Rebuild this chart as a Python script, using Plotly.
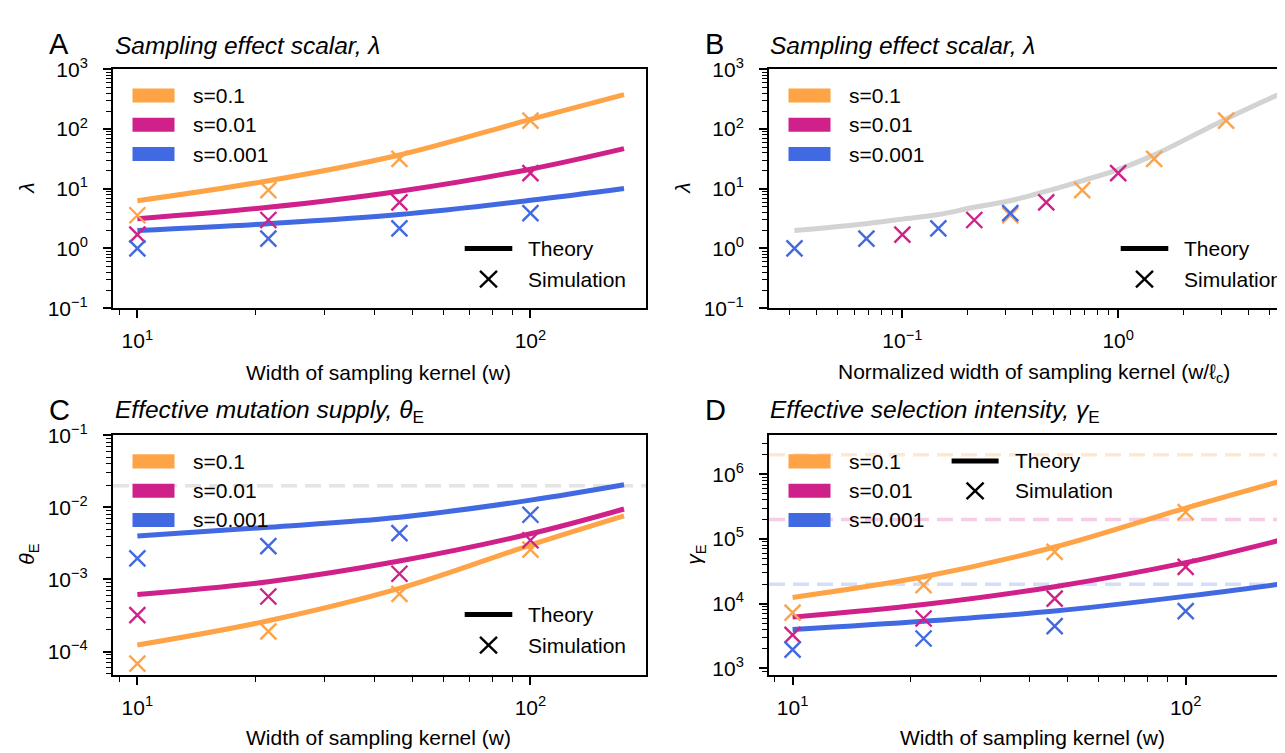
import plotly.graph_objects as go

W, H = 1285, 753
FONT = "Liberation Sans, Arial, Helvetica, sans-serif"

# ---------------- data ----------------
s_labels = ["s=0.1", "s=0.01", "s=0.001"]
colors = ["#FFA347", "#D0208A", "#4169E1"]
faded = ["rgba(255,163,71,0.25)", "rgba(208,32,138,0.22)", "rgba(65,105,225,0.22)"]

w_sim = [10, 21.54, 46.42, 100]
w_theory = [10, 21.54, 46.42, 100, 173]
ell_c = [31.62, 100, 316.2]          # characteristic length per s

# Panel A: sampling effect scalar lambda
lam_theory = [
    [6.3, 13.6, 36.8, 145, 378],
    [3.16, 4.9, 9.1, 21.3, 47],
    [2.0, 2.6, 3.7, 6.4, 10.1],
]
lam_sim = [
    [3.6, 9.5, 31.6, 138],
    [1.7, 3.0, 5.9, 18.3],
    [1.0, 1.46, 2.17, 3.9],
]

# Panel B: collapsed theory curve vs normalized width
gray_x = [0.0316, 0.068, 0.1, 0.147, 0.215, 0.316, 0.464, 0.68, 1.0, 1.47, 3.16, 5.5]
gray_y = [2.0, 2.6, 3.1, 3.7, 4.9, 6.3, 9.1, 13.6, 21, 37, 148, 375]

# Panel C: effective mutation supply theta_E
theta_theory = [
    [1.23e-4, 2.67e-4, 7.5e-4, 3.0e-3, 7.6e-3],
    [6.2e-4, 9.3e-4, 1.8e-3, 4.3e-3, 9.5e-3],
    [4.0e-3, 5.3e-3, 7.3e-3, 1.26e-2, 2.06e-2],
]
theta_sim = [
    [6.8e-5, 1.9e-4, 6.3e-4, 2.6e-3],
    [3.2e-4, 5.8e-4, 1.2e-3, 3.5e-3],
    [1.96e-3, 2.9e-3, 4.4e-3, 7.9e-3],
]
theta_ref = 0.02

# Panel D: effective selection intensity gamma_E
gamma_theory = [
    [1.25e4, 2.6e4, 7.5e4, 3.0e5, 7.7e5],
    [6.2e3, 9.7e3, 1.83e4, 4.3e4, 9.5e4],
    [4.0e3, 5.35e3, 7.7e3, 1.3e4, 2.0e4],
]
gamma_sim = [
    [7.3e3, 1.94e4, 6.3e4, 2.6e5],
    [3.3e3, 5.9e3, 1.2e4, 3.7e4],
    [1.95e3, 2.9e3, 4.5e3, 7.7e3],
]
gamma_ref = [2e6, 2e5, 2e4]

# tick labels
x_ticks_w = [10, 100]
x_ticktext_w = ["10<sup>1</sup>", "10<sup>2</sup>"]
x_ticks_n = [0.1, 1]
x_ticktext_n = ["10<sup>\u22121</sup>", "10<sup>0</sup>"]
y_ticks_A = [0.1, 1, 10, 100, 1000]
y_ticktext_A = ["10<sup>\u22121</sup>", "10<sup>0</sup>", "10<sup>1</sup>", "10<sup>2</sup>", "10<sup>3</sup>"]
y_ticks_C = [1e-4, 1e-3, 1e-2, 1e-1]
y_ticktext_C = ["10<sup>\u22124</sup>", "10<sup>\u22123</sup>", "10<sup>\u22122</sup>", "10<sup>\u22121</sup>"]
y_ticks_D = [1e3, 1e4, 1e5, 1e6]
y_ticktext_D = ["10<sup>3</sup>", "10<sup>4</sup>", "10<sup>5</sup>", "10<sup>6</sup>"]


def minor_vals(e0, e1):
    return [k * 10 ** e for e in range(e0, e1 + 1) for k in range(2, 10)]


# ---------------- geometry ----------------
def px(x):
    return x / W


def py(y):
    return 1 - y / H


panels = {
    "A": dict(n="", left=105, right=638, top=49, bottom=296),
    "B": dict(n="2", left=761, right=1285, top=49, bottom=296),
    "C": dict(n="3", left=105, right=638, top=427.5, bottom=675),
    "D": dict(n="4", left=761, right=1285, top=427.5, bottom=675),
}

fig = go.Figure()


# ---------------- traces ----------------
def add_lines(panel, xs, ys_list):
    n = panels[panel]["n"]
    for ys, c in zip(ys_list, colors):
        fig.add_trace(go.Scatter(x=xs, y=ys, mode="lines", line=dict(color=c, width=5, shape="spline"),
                                 xaxis="x" + n, yaxis="y" + n, showlegend=False, hoverinfo="skip"))


def add_markers(panel, xs_list, ys_list, order=(0, 1, 2)):
    n = panels[panel]["n"]
    for i in order:
        fig.add_trace(go.Scatter(x=xs_list[i], y=ys_list[i], mode="markers",
                                 marker=dict(symbol="x-thin", size=16, color=colors[i],
                                             line=dict(color=colors[i], width=2.4)),
                                 xaxis="x" + n, yaxis="y" + n, showlegend=False, hoverinfo="skip"))


# A
add_lines("A", w_theory, lam_theory)
add_markers("A", [w_sim] * 3, lam_sim)
# B
fig.add_trace(go.Scatter(x=gray_x, y=gray_y, mode="lines", line=dict(color="#D3D3D3", width=5, shape="spline"),
                         xaxis="x2", yaxis="y2", showlegend=False, hoverinfo="skip"))
norm_x = [[w / lc for w in w_sim] for lc in ell_c]
add_markers("B", norm_x, lam_sim)
# C
add_lines("C", w_theory, theta_theory)
add_markers("C", [w_sim] * 3, theta_sim)
# D
add_lines("D", w_theory, gamma_theory)
add_markers("D", [w_sim] * 3, gamma_sim)

# ---------------- axes ----------------
tickfont = dict(family=FONT, size=21, color="black")
common = dict(type="log", showgrid=False, zeroline=False, showline=True, linecolor="black", linewidth=2,
              ticks="outside", ticklen=8, tickwidth=1.6, tickcolor="black", tickfont=tickfont,
              tickmode="array")

layout_axes = {}


def set_axes(panel, xrange_, xt, xtt, xminor, yrange_, yt, ytt, yminor, right_line=True):
    p = panels[panel]
    n = p["n"]
    xa = dict(common, domain=[px(p["left"]), px(p["right"])], range=xrange_, tickvals=xt, ticktext=xtt,
              anchor="y" + n, mirror=True, ticklabelstandoff=5,
              minor=dict(tickmode="array", tickvals=xminor, ticks="outside", ticklen=5, tickwidth=1.2,
                         tickcolor="black"))
    ya = dict(common, domain=[py(p["bottom"]), py(p["top"])], range=yrange_, tickvals=yt, ticktext=ytt,
              anchor="x" + n, mirror=right_line, ticklabelstandoff=11,
              minor=dict(tickmode="array", tickvals=yminor, ticks="outside", ticklen=5, tickwidth=1.2,
                         tickcolor="black"))
    layout_axes["xaxis" + n] = xa
    layout_axes["yaxis" + n] = ya


set_axes("A", [0.938, 2.294], x_ticks_w, x_ticktext_w, minor_vals(0, 2),
         [-1, 3], y_ticks_A, y_ticktext_A, minor_vals(-1, 3))
set_axes("B", [-1.618, 0.81], x_ticks_n, x_ticktext_n, minor_vals(-2, 0),
         [-1, 3], y_ticks_A, y_ticktext_A, minor_vals(-1, 3), right_line=False)
set_axes("C", [0.938, 2.294], x_ticks_w, x_ticktext_w, minor_vals(0, 2),
         [-4.32, -1], y_ticks_C, y_ticktext_C, minor_vals(-5, -1))
set_axes("D", [0.94, 2.273], x_ticks_w, x_ticktext_w, minor_vals(0, 2),
         [2.905, 6.6], y_ticks_D, y_ticktext_D, minor_vals(2, 6), right_line=False)

# ---------------- shapes & annotations ----------------
shapes = []
annotations = []


def text(x, y, s, size=21, xanchor="left", yanchor="middle", angle=0):
    annotations.append(dict(x=px(x), y=py(y), xref="paper", yref="paper", text=s, showarrow=False,
                            xanchor=xanchor, yanchor=yanchor, textangle=angle,
                            font=dict(family=FONT, size=size, color="black")))


# reference dashed lines
shapes.append(dict(type="line", xref="x3 domain", yref="y3", x0=0, x1=1, y0=theta_ref, y1=theta_ref,
                   line=dict(color="#E4E4E4", width=3.5, dash="16px,8px"), layer="below"))
for v, c in zip(gamma_ref, faded):
    shapes.append(dict(type="line", xref="x4 domain", yref="y4", x0=0, x1=1, y0=v, y1=v,
                       line=dict(color=c, width=3.5, dash="16px,8px"), layer="below"))

# colour legends
for name, p in panels.items():
    L, T = p["left"], p["top"]
    for i, (lab, c) in enumerate(zip(s_labels, colors)):
        yc = T + 27 + 30.3 * i
        shapes.append(dict(type="rect", xref="paper", yref="paper", x0=px(L + 19.5), x1=px(L + 61.5),
                           y0=py(yc + 7.3), y1=py(yc - 7.3), fillcolor=c, line=dict(width=0)))
        text(L + 78, yc, lab)


def theory_sim_legend(lx0, lx1, y_th, y_sim, tx):
    shapes.append(dict(type="line", xref="paper", yref="paper", x0=px(lx0), x1=px(lx1), y0=py(y_th), y1=py(y_th),
                       line=dict(color="black", width=5)))
    mx = (lx0 + lx1) / 2
    h = 8.5
    for d in (1, -1):
        shapes.append(dict(type="line", xref="paper", yref="paper", x0=px(mx - h), x1=px(mx + h),
                           y0=py(y_sim - d * h), y1=py(y_sim + d * h), line=dict(color="black", width=2.4)))
    text(tx, y_th, "Theory")
    text(tx, y_sim, "Simulation")


for name in ("A", "B", "C"):
    p = panels[name]
    theory_sim_legend(p["left"] + 351.7, p["left"] + 399.3, p["top"] + 185.3, p["top"] + 217, p["left"] + 413)
pD = panels["D"]
theory_sim_legend(pD["left"] + 182.6, pD["left"] + 229.6, pD["top"] + 26.5, pD["top"] + 57.5, pD["left"] + 243.5)

# panel letters and titles
text(39, 22.5, "A", size=29)
text(695, 22.5, "B", size=29)
text(39, 401.5, "C", size=29)
text(695, 401.5, "D", size=29)
text(105, 24, "<i>Sampling effect scalar, \u03bb</i>", size=24.5)
text(760, 24, "<i>Sampling effect scalar, \u03bb</i>", size=24.5)
text(105, 402.5, "<i>Effective mutation supply, \u03b8</i><sub>E</sub>", size=24.5)
text(760, 402.5, "<i>Effective selection intensity, \u03b3</i><sub>E</sub>", size=24.5)

# axis titles
text(19, 172.5, "<i>\u03bb</i>", xanchor="center", angle=-90)
text(675, 172.5, "<i>\u03bb</i>", xanchor="center", angle=-90)
text(20, 551, "<i>\u03b8</i><sub>E</sub>", xanchor="center", angle=-90)
text(687, 551, "<i>\u03b3</i><sub>E</sub>", xanchor="center", angle=-90)
text(371, 363, "Width of sampling kernel (w)", xanchor="center")
text(1026, 363, "Normalized width of sampling kernel (w/\u2113<sub>c</sub>)", xanchor="center")
text(371, 740, "Width of sampling kernel (w)", xanchor="center")
text(1024, 740, "Width of sampling kernel (w)", xanchor="center")

fig.update_layout(width=W, height=H, margin=dict(l=0, r=0, t=0, b=0), paper_bgcolor="white",
                  plot_bgcolor="white", showlegend=False, shapes=shapes, annotations=annotations,
                  font=dict(family=FONT, color="black"), **layout_axes)

fig.write_html("out.html")
